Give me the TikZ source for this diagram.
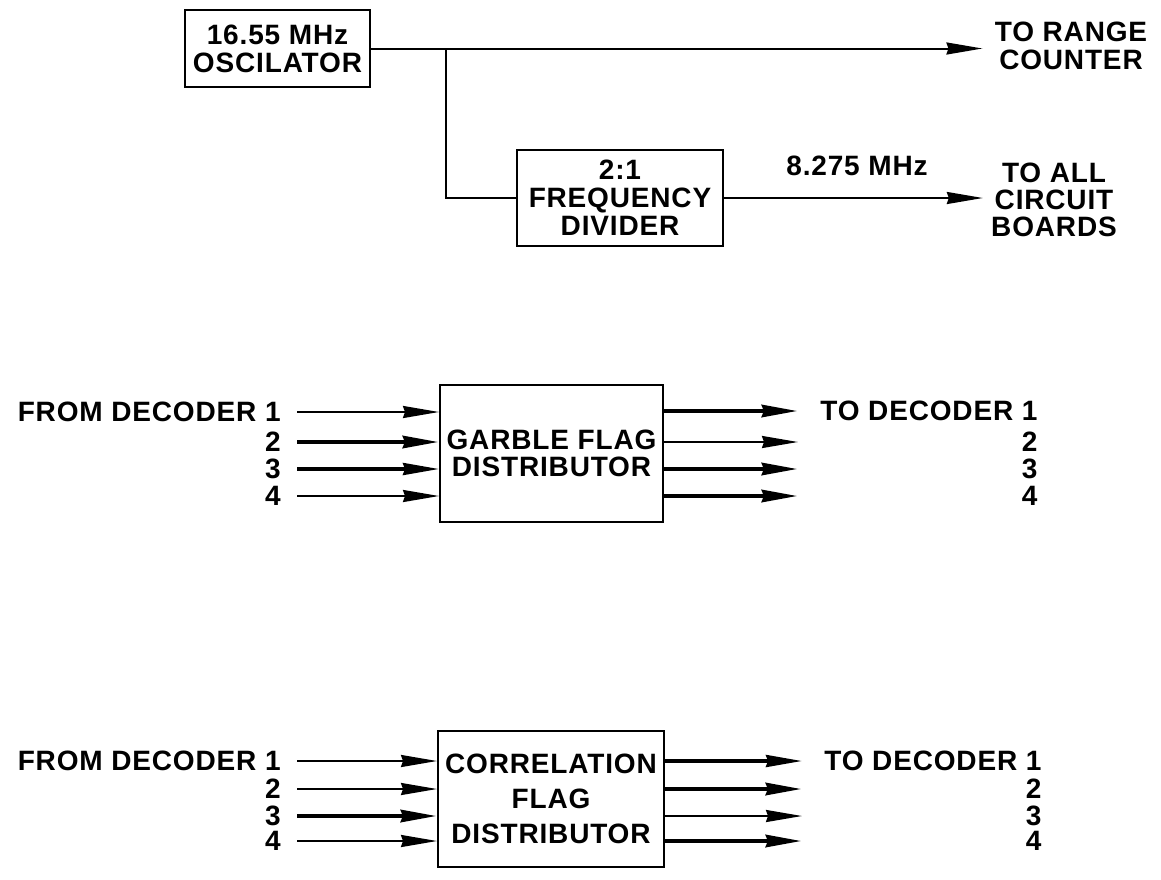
\documentclass[tikz,border=0pt]{standalone}
\usepackage{fontspec}
\setmainfont{Liberation Sans}[LetterSpace=3]
\usepackage{tikz}
\usetikzlibrary{arrows.meta, positioning}

\begin{document}
\begin{tikzpicture}[
  x=0.5pt, y=-0.5pt,
  font=\fontsize{14}{14}\selectfont\bfseries,
  box/.style={draw, line width=1pt, align=center, inner sep=0pt},
  lbl/.style={inner sep=1pt},
  ln/.style={line width=1pt},
  ar/.style={-{Stealth[length=18pt, width=6pt, inset=1pt]}, line width=1pt},
  mid/.style={ar, line width=1.6pt},
  thk/.style={ar, line width=2.3pt}
]
\useasboundingbox (0,0) rectangle (1161,879);

% clock section
\node[box, minimum width=92.5pt, minimum height=38.5pt] (osc) at (277.5,48.5) {16.55 MHz\\OSCILATOR};
\node[box, minimum width=103pt, minimum height=48pt] (div) at (620,198) {2:1\\FREQUENCY\\DIVIDER};
\node[lbl, align=center] (rng) at (1071,46) {TO RANGE\\COUNTER};
\node[lbl, align=center] (brd) at (1054,200) {TO ALL\\[-0.5pt]CIRCUIT\\[-0.5pt]BOARDS};
\node[lbl] (frq) at (857,166) {8.275 MHz};
\coordinate (br) at (446,48.5);

\draw[ln] (osc.east) -- (br);
\draw[ar, shorten >=5pt] (br) -- (rng.west |- br);
\draw[ln] (br) |- (div.west);
\draw[ar, shorten >=3pt] (div.east) -- (div.east -| brd.west);

% garble flag distributor
\node[box, minimum width=111.5pt, minimum height=68.5pt] (gfd) at (551.5,453.5) {GARBLE FLAG\\[-0.5pt]DISTRIBUTOR};
\node[lbl, anchor=east] (gi1) at (283,412) {FROM DECODER 1};
\node[lbl, anchor=east] (gi2) at (283,442) {2};
\node[lbl, anchor=east] (gi3) at (283,469) {3};
\node[lbl, anchor=east] (gi4) at (283,496) {4};
\node[lbl, anchor=west] (go1) at (818,411) {TO DECODER 1};
\node[lbl, anchor=east] (go2) at (go1.east |- 0,442) {2};
\node[lbl, anchor=east] (go3) at (go1.east |- 0,469) {3};
\node[lbl, anchor=east] (go4) at (go1.east |- 0,496) {4};

\draw[ar, shorten <=7pt] (gi1) -- (gi1 -| gfd.west);
\draw[thk, shorten <=7pt] (gi2) -- (gi2 -| gfd.west);
\draw[mid, shorten <=7pt] (gi3) -- (gi3 -| gfd.west);
\draw[ar, shorten <=7pt] (gi4) -- (gi4 -| gfd.west);
\draw[thk, shorten >=10pt] (gfd.east |- go1) -- (go1.west);
\draw[ar, shorten >=10pt] (gfd.east |- go2) -- (go1.west |- go2);
\draw[thk, shorten >=10pt] (gfd.east |- go3) -- (go1.west |- go3);
\draw[thk, shorten >=10pt] (gfd.east |- go4) -- (go1.west |- go4);

% correlation flag distributor
\node[box, minimum width=113pt, minimum height=68pt] (cfd) at (551,799) {CORRELATION\\[3.5pt]FLAG\\[3.5pt]DISTRIBUTOR};
\node[lbl, anchor=east] (ci1) at (283,761) {FROM DECODER 1};
\node[lbl, anchor=east] (ci2) at (283,789) {2};
\node[lbl, anchor=east] (ci3) at (283,816) {3};
\node[lbl, anchor=east] (ci4) at (283,841) {4};
\node[lbl, anchor=west] (co1) at (822,761) {TO DECODER 1};
\node[lbl, anchor=east] (co2) at (co1.east |- 0,789) {2};
\node[lbl, anchor=east] (co3) at (co1.east |- 0,816) {3};
\node[lbl, anchor=east] (co4) at (co1.east |- 0,841) {4};

\draw[ar, shorten <=7pt] (ci1) -- (ci1 -| cfd.west);
\draw[ar, shorten <=7pt] (ci2) -- (ci2 -| cfd.west);
\draw[thk, shorten <=7pt] (ci3) -- (ci3 -| cfd.west);
\draw[ar, shorten <=7pt] (ci4) -- (ci4 -| cfd.west);
\draw[mid, shorten >=10pt] (cfd.east |- co1) -- (co1.west);
\draw[thk, shorten >=10pt] (cfd.east |- co2) -- (co1.west |- co2);
\draw[ar, shorten >=10pt] (cfd.east |- co3) -- (co1.west |- co3);
\draw[thk, shorten >=10pt] (cfd.east |- co4) -- (co1.west |- co4);
\end{tikzpicture}
\end{document}
